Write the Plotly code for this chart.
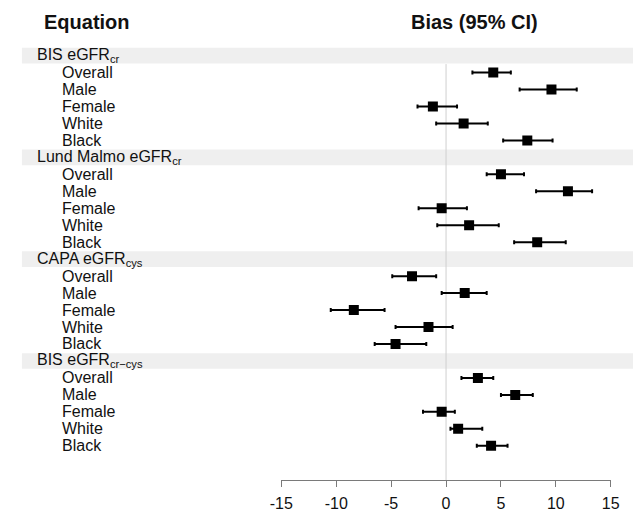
import plotly.graph_objects as go

# ---- data ----
equations = ["BIS eGFR<sub>cr</sub>", "Lund Malmo eGFR<sub>cr</sub>",
             "CAPA eGFR<sub>cys</sub>", "BIS eGFR<sub>cr\u2212cys</sub>"]
subgroups = ["Overall", "Male", "Female", "White", "Black"]

bias_est = [
    [4.3, 9.6, -1.2, 1.6, 7.4],
    [5.0, 11.1, -0.4, 2.1, 8.3],
    [-3.1, 1.7, -8.4, -1.6, -4.6],
    [2.9, 6.3, -0.4, 1.1, 4.1],
]
ci_low = [
    [2.4, 6.7, -2.6, -0.9, 5.2],
    [3.7, 8.2, -2.5, -0.8, 6.2],
    [-4.9, -0.4, -10.5, -4.6, -6.5],
    [1.4, 5.0, -2.1, 0.4, 2.8],
]
ci_high = [
    [5.9, 11.9, 1.0, 3.8, 9.7],
    [7.1, 13.3, 1.9, 4.8, 10.9],
    [-0.9, 3.7, -5.6, 0.6, -1.8],
    [4.3, 7.9, 0.8, 3.3, 5.6],
]
tick_vals = [-15, -10, -5, 0, 5, 10, 15]
tick_text = ["-15", "-10", "-5", "0", "5", "10", "15"]

FONT = "Liberation Sans, Arial, sans-serif"
OFF = 8  # page body margin compensation
W, H = 642 - OFF, 512 - OFF
ROW_H = 17.0
TOP_ROW_PX = 55.7 - OFF
AXIS_PX = 481 - OFF
y_top = -TOP_ROW_PX / ROW_H
y_bot = (AXIS_PX - TOP_ROW_PX) / ROW_H

def px(x):
    return (x - OFF) / W

fig = go.Figure()
shapes = []
annotations = []

# zero reference line
shapes.append(dict(type="line", xref="x", yref="y", x0=0, x1=0, y0=0.5, y1=y_bot,
                   line=dict(color="#cfcfcf", width=1), layer="below"))

xs, ys, em, ep = [], [], [], []
for g, eq in enumerate(equations):
    hy = 6 * g
    shapes.append(dict(type="rect", xref="paper", yref="y", x0=px(10), x1=1,
                       y0=hy - 0.46, y1=hy + 0.46, fillcolor="#efefef",
                       line=dict(width=0), layer="below"))
    annotations.append(dict(xref="paper", yref="y", x=px(24), y=hy, text=eq,
                            xanchor="left", yanchor="middle", showarrow=False,
                            font=dict(family=FONT, size=16, color="#111")))
    for k, sg in enumerate(subgroups):
        ry = hy + 1 + k
        annotations.append(dict(xref="paper", yref="y", x=px(49), y=ry, text=sg,
                                xanchor="left", yanchor="middle", showarrow=False,
                                font=dict(family=FONT, size=16, color="#111")))
        xs.append(bias_est[g][k])
        ys.append(ry)
        ep.append(ci_high[g][k] - bias_est[g][k])
        em.append(bias_est[g][k] - ci_low[g][k])

fig.add_trace(go.Scatter(
    x=xs, y=ys, mode="markers",
    marker=dict(symbol="square", size=10, color="black"),
    error_x=dict(type="data", array=ep, arrayminus=em, symmetric=False,
                 color="black", thickness=2, width=2),
    showlegend=False, hoverinfo="skip"))

# headers
annotations.append(dict(xref="paper", yref="y", x=px(31), y=-2.0, text="<b>Equation</b>",
                        xanchor="left", yanchor="middle", showarrow=False,
                        font=dict(family=FONT, size=20, color="#111")))
annotations.append(dict(xref="paper", yref="y", x=px(478), y=-2.0, text="<b>Bias (95% CI)</b>",
                        xanchor="center", yanchor="middle", showarrow=False,
                        font=dict(family=FONT, size=20, color="#111")))

fig.update_layout(
    width=W, height=H, margin=dict(l=0, r=0, t=0, b=H - AXIS_PX, pad=0),
    paper_bgcolor="white", plot_bgcolor="white",
    shapes=shapes, annotations=annotations,
    xaxis=dict(domain=[px(278.3), px(619)], range=[-15, 15], showgrid=False, zeroline=False,
               showline=True, linecolor="#7a7a7a", linewidth=1,
               ticks="outside", ticklen=6, tickcolor="#7a7a7a", tickwidth=1,
               tickvals=tick_vals, ticktext=tick_text, ticklabelstandoff=3,
               tickfont=dict(family=FONT, size=16, color="#111"), fixedrange=True),
    yaxis=dict(range=[y_bot, y_top], visible=False, fixedrange=True),
)

fig.write_html("out.html")
